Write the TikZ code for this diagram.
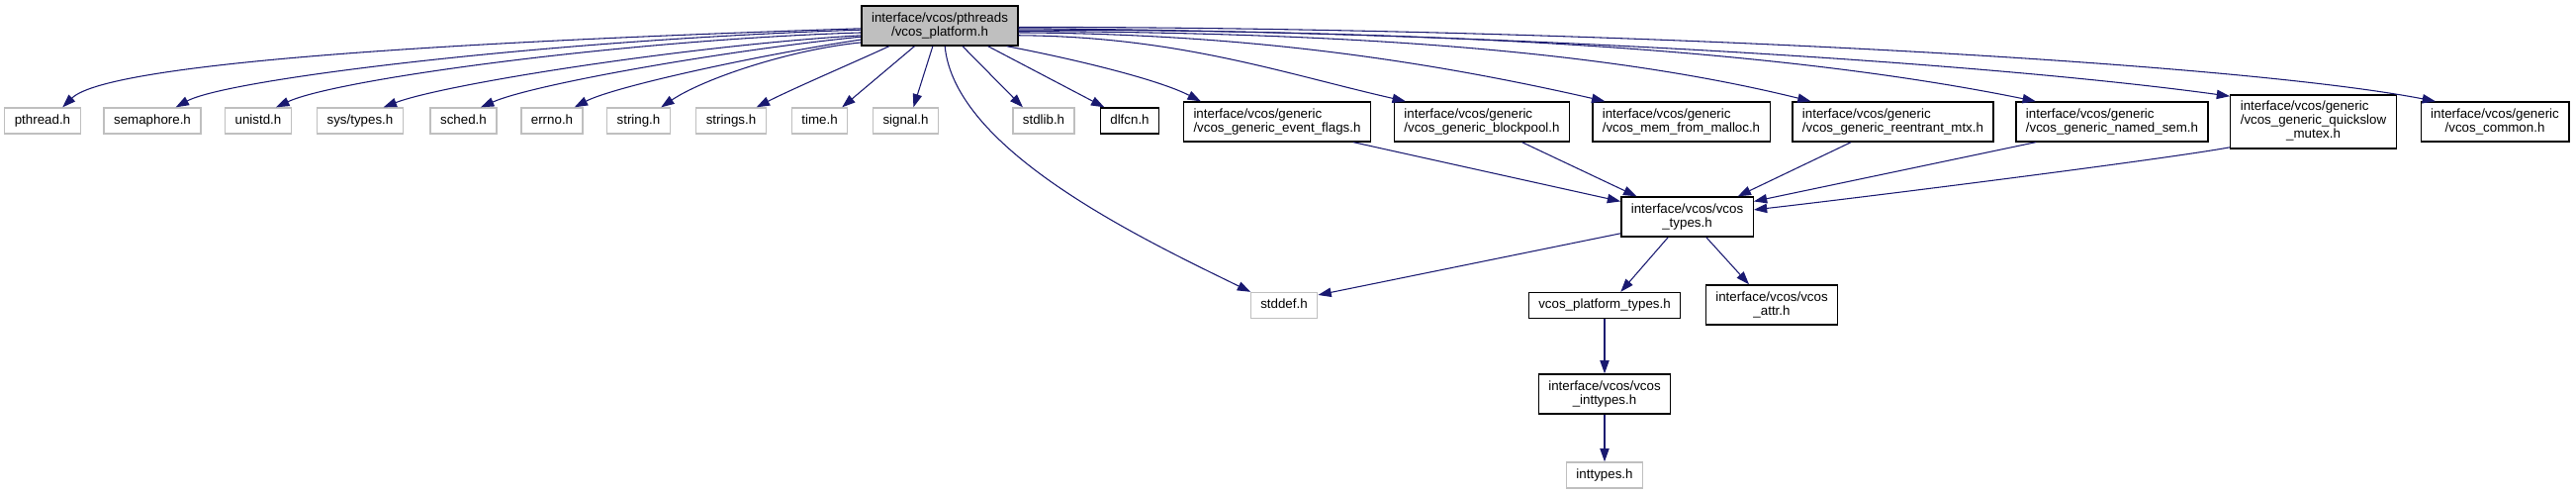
\documentclass[tikz,border=0pt]{standalone}
\usepackage{fontspec}
\setmainfont{Liberation Sans}
\usepackage{xcolor}
\usetikzlibrary{arrows.meta}
\definecolor{edgeblue}{HTML}{191970}
\definecolor{boxgrey}{HTML}{BFBFBF}

\begin{document}
\begin{tikzpicture}[x=0.75pt,y=-0.75pt,
    box/.style={rectangle,draw=black,line width=1pt,font=\fontsize{10}{10.5}\selectfont,inner xsep=7.5pt,inner ysep=0pt},
    file/.style={box,minimum height=19.5pt,text height=7.2pt,text depth=2.2pt},
    sysfile/.style={file,draw=boxgrey},
    block/.style={box,minimum height=30pt},
    dep/.style={draw=edgeblue,line width=0.8pt,-{Triangle[length=10pt,width=7pt]}}]
    \useasboundingbox (0,0) rectangle (2604,499);

    \node[block,fill=boxgrey,align=center] (root) at (950,26) {interface/vcos/pthreads\\/vcos\_platform.h};

    \node[sysfile] (pthread) at (43,122) {pthread.h};
    \node[sysfile] (semaphore) at (154,122) {semaphore.h};
    \node[sysfile] (unistd) at (261,122) {unistd.h};
    \node[sysfile] (systypes) at (364,122) {sys/types.h};
    \node[sysfile] (sched) at (468.5,122) {sched.h};
    \node[sysfile] (errno) at (558,122) {errno.h};
    \node[sysfile] (string) at (645.5,122) {string.h};
    \node[sysfile] (strings) at (739,122) {strings.h};
    \node[sysfile] (time) at (828.5,122) {time.h};
    \node[sysfile] (signal) at (915.5,122) {signal.h};
    \node[sysfile] (stdlib) at (1055,122) {stdlib.h};
    \node[file] (dlfcn) at (1142,122) {dlfcn.h};
    \node[block,align=left] (evflags) at (1291,123) {interface/vcos/generic\\/vcos\_generic\_event\_flags.h};
    \node[block,align=left] (blockpool) at (1498,123) {interface/vcos/generic\\/vcos\_generic\_blockpool.h};
    \node[block,align=left] (malloc) at (1699.5,123) {interface/vcos/generic\\/vcos\_mem\_from\_malloc.h};
    \node[block,align=left] (reentrant) at (1913.5,123) {interface/vcos/generic\\/vcos\_generic\_reentrant\_mtx.h};
    \node[block,align=left] (namedsem) at (2135,123) {interface/vcos/generic\\/vcos\_generic\_named\_sem.h};
    \node[block,minimum height=40.5pt] (quickslow) at (2338.5,123) {\begin{tabular}{@{}l@{}}interface/vcos/generic\\/vcos\_generic\_quickslow\\\multicolumn{1}{@{}c@{}}{\_mutex.h}\end{tabular}};
    \node[block,align=center] (common) at (2522,123) {interface/vcos/generic\\/vcos\_common.h};

    \node[block,align=center] (types) at (1705.5,219) {interface/vcos/vcos\\\_types.h};
    \node[sysfile] (stddef) at (1298,308.5) {stddef.h};
    \node[file] (pftypes) at (1622,308.5) {vcos\_platform\_types.h};
    \node[block,align=center] (attr) at (1791,308) {interface/vcos/vcos\\\_attr.h};
    \node[block,align=center] (vcosint) at (1622,398) {interface/vcos/vcos\\\_inttypes.h};
    \node[sysfile] (inttypes) at (1622,480) {inttypes.h};

    \draw[dep] (root.182) .. controls +(-371,12) and +(48,-47) .. (pthread.34);
    \draw[dep] (root.183) .. controls +(-311,10) and +(53,-29) .. (semaphore.30);
    \draw[dep] (root.185) .. controls +(-231,7) and +(62,-29) .. (unistd.37);
    \draw[dep] (root.187) .. controls +(-171,10) and +(63,-24) .. (systypes.30);
    \draw[dep] (root.188) .. controls +(-131,13) and +(55,-24) .. (sched.38);
    \draw[dep] (root.190) .. controls +(-101,15) and +(40,-21) .. (errno.31);
    \draw[dep] (root.192) .. controls +(-71,7) and +(43,-29) .. (string.31);
    \draw[dep] (root.202) .. controls +(-30,14) and +(37,-19) .. (strings.28);
    \draw[dep] (root.219) -- (time.31);
    \draw[dep] (root.251) -- (signal.60);
    \draw[dep] (root.284) .. controls +(10,104) and +(-115,-56) .. (stddef.158);
    \draw[dep] (root.318) -- (stdlib.147);
    \draw[dep] (root.337) -- (dlfcn.152);
    \draw[dep] (root.343) .. controls +(63,12) and +(-45,-23) .. (evflags.165);
    \draw[dep] (root.353) .. controls +(161,1) and +(-123,-28) .. (blockpool.165);
    \draw[dep] (root.355) .. controls +(241,1) and +(-167,-38) .. (malloc.165);
    \draw[dep] (root.356) .. controls +(321,1) and +(-215,-53) .. (reentrant.166);
    \draw[dep] (root.357) .. controls +(421,0) and +(-260,-53) .. (namedsem.165);
    \draw[dep] (root.358) .. controls +(471,3) and +(-255,-35) .. (quickslow.163);
    \draw[dep] (root.359) .. controls +(571,0) and +(-213,-41) .. (common.161);

    \draw[dep] (evflags.345) -- (types.167);
    \draw[dep] (blockpool.333) -- (types.158);
    \draw[dep] (reentrant.206) -- (types.22);
    \draw[dep] (namedsem.195) -- (types.13);
    \draw[dep] (quickslow.197) .. controls +(-65,12) and +(106,-12) .. (types.6);
    \draw[dep] (types.194) -- (stddef.17);
    \draw[dep] (types.227) -- (pftypes.40);
    \draw[dep] (types.313) -- (attr.138);
    \draw[dep] (pftypes) -- (vcosint);
    \draw[dep] (vcosint) -- (inttypes);
\end{tikzpicture}
\end{document}
